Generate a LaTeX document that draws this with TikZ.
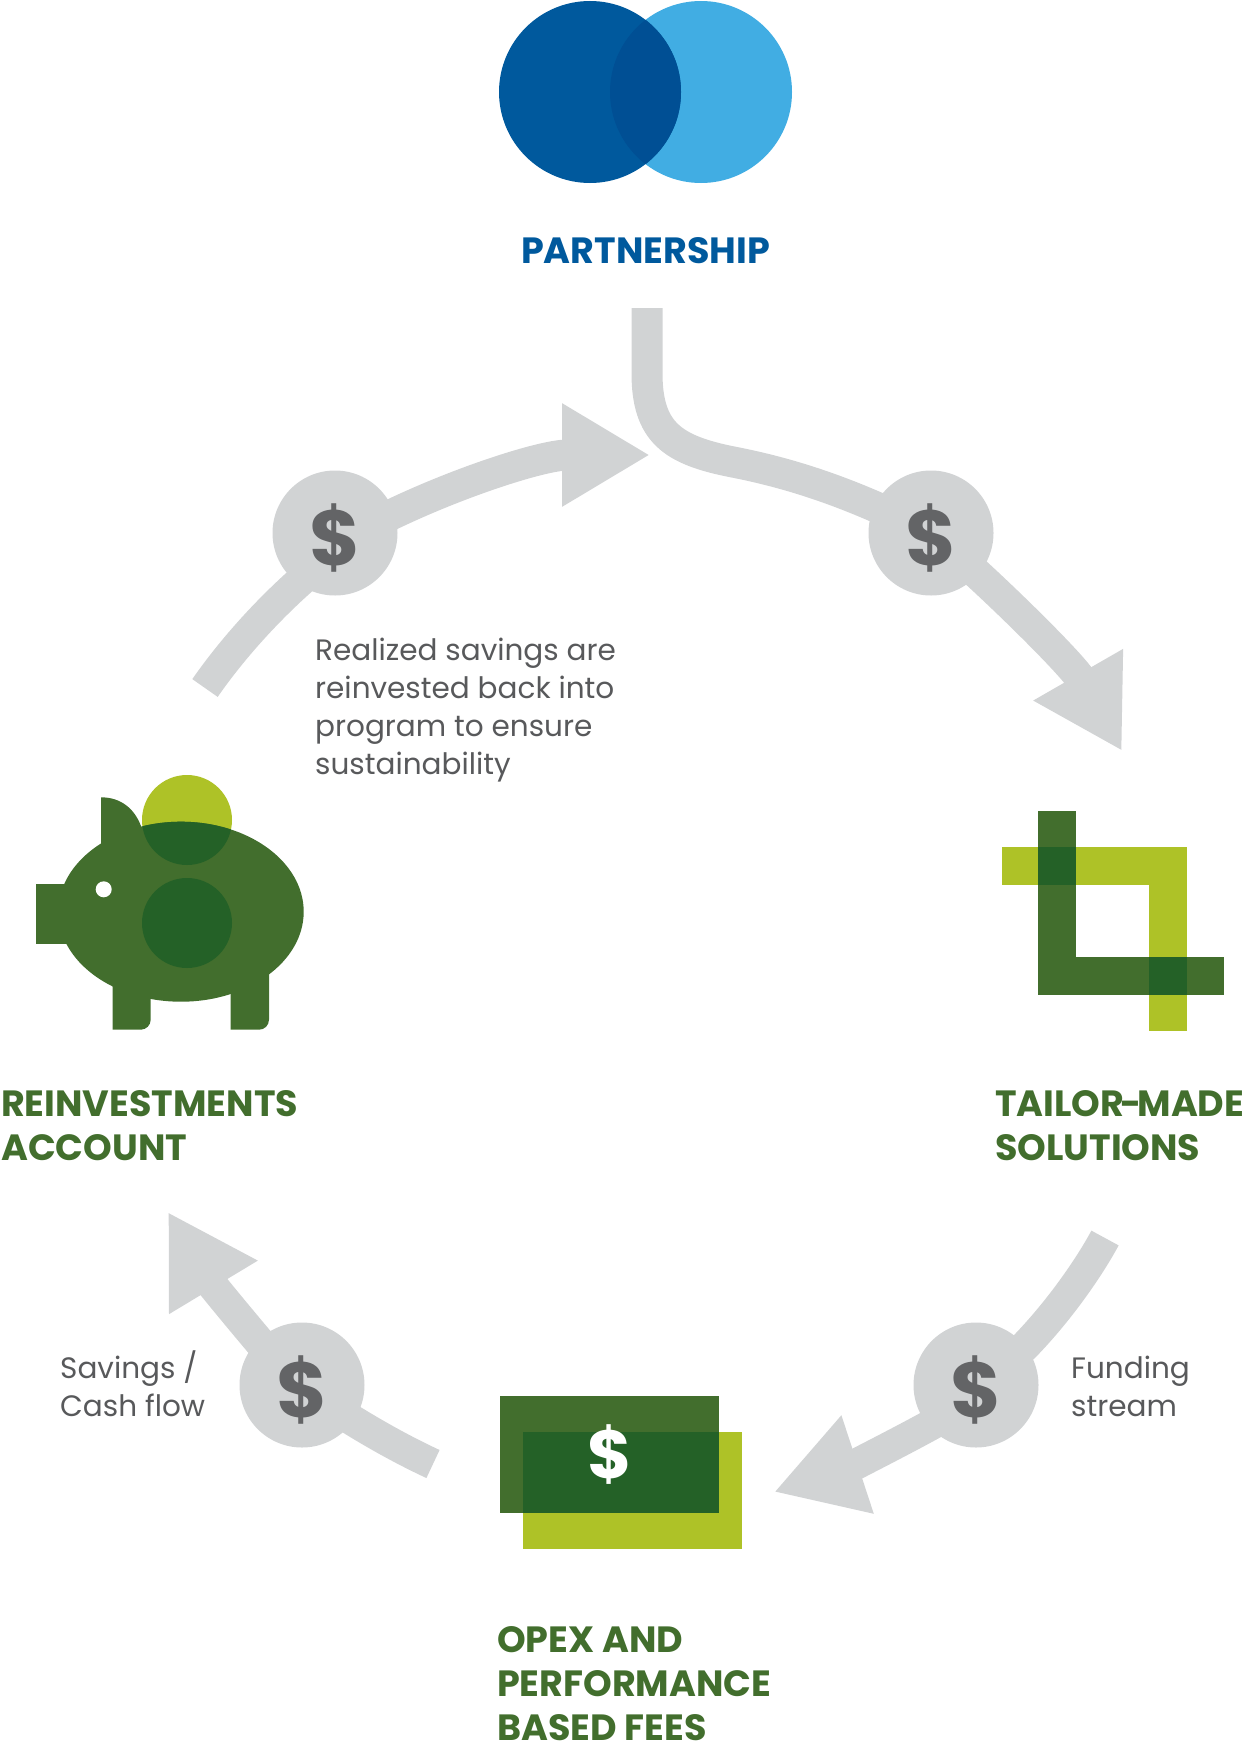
\documentclass[tikz,border=0pt]{standalone}
\usepackage{fontspec}
\setmainfont{Poppins}
\usetikzlibrary{arrows.meta,backgrounds}
\definecolor{blueDark}{HTML}{00599D}
\definecolor{blueLight}{HTML}{41ADE3}
\definecolor{blueMix}{HTML}{004F94}
\definecolor{greenDark}{HTML}{426E2D}
\definecolor{greenMix}{HTML}{246127}
\definecolor{lime}{HTML}{AEC227}
\definecolor{flowGray}{HTML}{D1D3D4}
\definecolor{signGray}{HTML}{636466}
\definecolor{bodyGray}{HTML}{58595B}
\tikzset{
  flow/.style={draw=flowGray, line width=31pt},
  flowtip/.style={flow, -{Triangle[length=88pt,width=97pt]}},
  coin/.style={circle, fill=flowGray, minimum size=125pt, inner sep=0pt},
  sign/.style={inner sep=0pt, text=signGray, font=\fontsize{78}{78}\selectfont\bfseries},
  head/.style={anchor=base west, inner sep=0pt, align=left, font=\fontsize{36.5}{44}\selectfont\bfseries},
  body/.style={anchor=base west, inner sep=0pt, align=left, text=bodyGray, font=\fontsize{29.5}{37.8}\selectfont}
}
\begin{document}
\begin{tikzpicture}[x=1pt, y=-1pt]
\useasboundingbox (0,0) rectangle (1245,1742);

\fill[blueLight](701,92)circle (91pt);
\fill[blueDark](590,92)circle (91pt);
\begin{scope}
\clip (701,92)circle (91pt);
\fill[blueMix](590,92)circle (91pt);
\end{scope}
\node[head, text=blueDark] (partnership) at (521,263) {PARTNERSHIP};

\node[coin] (coinTop) at (931,533) {};
\node[coin] (coinLeft) at (335,533) {};
\node[coin] (coinRight) at (976,1385) {};
\node[coin] (coinBottom) at (302,1385) {};
\foreach \c in {coinTop,coinLeft,coinRight,coinBottom}
{
    \node[sign] (sign\c) at ([yshift=-5pt]\c.center) {\$};
}

\coordinate (startTop) at (647,308);
\coordinate (tipTop) at (1122,751);
\coordinate (startRight) at (1105,1238);
\coordinate (tipRight) at (774,1492);
\coordinate (startBottom) at (433,1464);
\coordinate (tipBottom) at (168,1212);
\coordinate (startLeft) at (205,688);
\coordinate (tipLeft) at (650,455);

\begin{scope}[on background layer]
\draw[flow](startTop) -- (647,373) .. controls (647,432) and (672,450) .. (733,462) .. controls (800,475) and (860,497) .. (coinTop.center);
\draw[flowtip](coinTop.center) .. controls (985,578) and (1072,664) .. (tipTop);
\draw[flow](startRight) .. controls (1090,1266) and (1060,1310) .. (1024,1347) -- (coinRight.center);
\draw[flowtip](coinRight.center) -- (945,1417) .. controls (910,1437) and (850,1467) .. (tipRight);
\draw[flow](startBottom) .. controls (405,1451) and (378,1436) .. (352,1420) -- (coinBottom.center);
\draw[flowtip](coinBottom.center) -- (268,1352) .. controls (245,1325) and (212,1285) .. (tipBottom);
\draw[flow](startLeft) .. controls (230,652) and (265,612) .. (305,577) -- (coinLeft.center);
\draw[flowtip](coinLeft.center) -- (365,528) .. controls (440,488) and (540,455) .. (tipLeft);
\end{scope}

\node[body] (reinvested) at (315,774) {Realized savings are\\reinvested back into\\program to ensure\\sustainability};
\node[body] (funding) at (1071,1416) {Funding\\stream};
\node[body] (savings) at (60,1416) {Savings /\\Cash flow};

\fill[lime](1002,847) rectangle (1187,885);
\fill[lime](1149,847) rectangle (1187,1031);
\fill[greenDark](1038,811) rectangle (1076,995);
\fill[greenDark](1038,957) rectangle (1224,995);
\fill[greenMix](1038,847) rectangle (1076,885);
\fill[greenMix](1149,957) rectangle (1187,995);
\node[head, text=greenDark] (tailor) at (995,1160) {TAILOR{\kern-4pt}-{\kern-4pt}MADE\\SOLUTIONS};

\fill[lime](522.5,1432) rectangle (741.5,1549);
\fill[greenDark](500,1396) rectangle (719,1513.3);
\fill[greenMix](522.5,1432) rectangle (719,1513.3);
\node[text=white, inner sep=0pt, font=\fontsize{68}{68}\selectfont\bfseries] (bill) at (609.5,1455) {\$};
\node[head, text=greenDark] (opex) at (497,1740) {OPEX AND\\PERFORMANCE\\BASED FEES};

\fill[lime](187,820)circle (45pt);
\fill[greenDark](181,911.7)ellipse [x radius=122.7pt, y radius=90pt];
\fill[greenDark](35.7,883.7) rectangle (75,944);
\fill[greenDark](101,797.3) .. controls (122,797.3) and (136,810) .. (142,829) -- (142,860) -- (101,860) -- cycle;
\fill[greenDark](112.7,960) -- (112.7,1029.7) [rounded corners=10pt] -- (150.7,1029.7) [sharp corners] -- (150.7,960) -- cycle;
\fill[greenDark](230.7,960) -- (230.7,1029.7) [rounded corners=10pt] -- (269,1029.7) [sharp corners] -- (269,960) -- cycle;
\begin{scope}
\clip (181,911.7)ellipse [x radius=122.7pt, y radius=90pt];
\fill[greenMix](187,820)circle (45pt);
\end{scope}
\fill[greenMix](187,923)circle (45pt);
\fill[white](103.7,889.3)circle (8pt);
\node[head, text=greenDark] (reinvest) at (1,1160) {REINVESTMENTS\\ACCOUNT};
\end{tikzpicture}
\end{document}
